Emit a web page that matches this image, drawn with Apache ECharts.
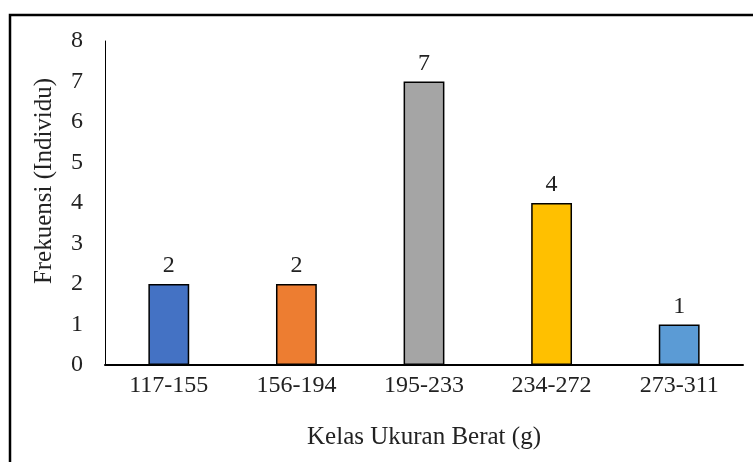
<!DOCTYPE html>
<html>
<head>
<meta charset="utf-8">
<script src="https://cdn.jsdelivr.net/npm/echarts@6/dist/echarts.min.js"></script>
<style>
  html, body { margin: 0; padding: 0; background: #fff; }
  #chart { width: 753px; height: 462px; }
</style>
</head>
<body>
<div id="chart"></div>
<script>
// data
var kelas = ["117-155", "156-194", "195-233", "234-272", "273-311"];
var frekuensi = [2, 2, 7, 4, 1];
var warna = ["#4472C4", "#ED7D31", "#A5A5A5", "#FFC000", "#5B9BD5"];

var chart = echarts.init(document.getElementById("chart"));
var font = "'Liberation Serif', 'Times New Roman', serif";

var option = {
  animation: false,
  textStyle: { fontFamily: font },
  graphic: [
    {
      // frame round the figure (right and bottom fall off the picture)
      type: "rect",
      shape: { x: 10, y: 15, width: 800, height: 500 },
      style: { fill: null, stroke: "#000", lineWidth: 2.5 },
      silent: true
    }
  ],
  grid: { left: 105, right: 10, top: 41, bottom: 97 },
  xAxis: {
    type: "category",
    data: kelas,
    name: "Kelas Ukuran Berat (g)",
    nameLocation: "middle",
    nameGap: 60,
    nameTextStyle: { fontFamily: font, fontSize: 25, color: "#222" },
    axisLine: { lineStyle: { color: "#000", width: 2 } },
    axisTick: { show: false },
    axisLabel: { fontFamily: font, fontSize: 24, color: "#222", margin: 9 }
  },
  yAxis: {
    type: "value",
    min: 0,
    max: 8,
    interval: 1,
    name: "Frekuensi (Individu)",
    nameLocation: "middle",
    nameGap: 48,
    nameTextStyle: { fontFamily: font, fontSize: 25, color: "#222", padding: [0, 0, 0, 44] },
    splitLine: { show: false },
    axisLine: { show: true, lineStyle: { color: "#000", width: 1 } },
    axisTick: { show: false },
    axisLabel: { fontFamily: font, fontSize: 24, color: "#222", margin: 22 }
  },
  series: [
    {
      type: "bar",
      data: frekuensi.map(function (v, i) {
        return { value: v, itemStyle: { color: warna[i] } };
      }),
      barWidth: "32%",
      itemStyle: { borderColor: "#000", borderWidth: 1.5 },
      label: {
        show: true,
        position: "top",
        distance: 6,
        fontFamily: font,
        fontSize: 24,
        color: "#222"
      }
    }
  ]
};

chart.setOption(option);
</script>
</body>
</html>
